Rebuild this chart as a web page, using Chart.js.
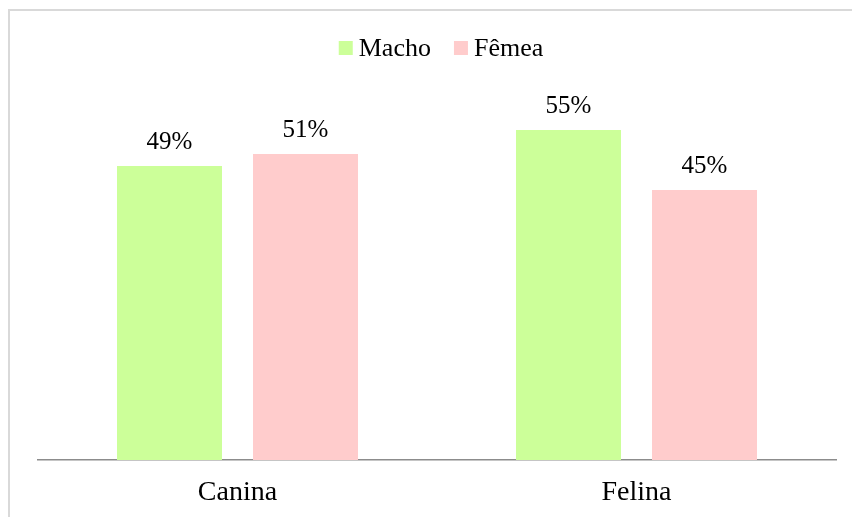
<!DOCTYPE html>
<html>
<head>
<meta charset="utf-8">
<script src="https://cdn.jsdelivr.net/npm/chart.js@4.4.1/dist/chart.umd.min.js"></script>
<style>
html,body{margin:0;padding:0;background:#fff;}
#wrap{width:852px;height:517px;position:relative;}
</style>
</head>
<body>
<div id="wrap"><canvas id="c" width="852" height="517"></canvas></div>
<script>
const categories = ["Canina", "Felina"];
const seriesNames = ["Macho", "Fêmea"];
const machoValues = [49, 55];
const femeaValues = [51, 45];
const seriesColors = ["#ccff99", "#ffcccc"];

const FONT = "'Liberation Serif', 'Times New Roman', serif";

const borderPlugin = {
  id: 'frame',
  beforeDraw(chart) {
    const ctx = chart.ctx;
    ctx.save();
    ctx.fillStyle = '#fff';
    ctx.fillRect(0, 0, chart.width, chart.height);
    ctx.strokeStyle = '#d9d9d9';
    ctx.lineWidth = 2;
    ctx.beginPath();
    ctx.moveTo(9, chart.height);
    ctx.lineTo(9, 10);
    ctx.lineTo(chart.width, 10);
    ctx.stroke();
    ctx.restore();
  }
};

const legendPlugin = {
  id: 'customLegend',
  afterDraw(chart) {
    const ctx = chart.ctx;
    ctx.save();
    ctx.font = "26px " + FONT;
    const box = 14, gapText = 6, gapItem = 23;
    const items = chart.data.datasets.map(d => ({label: d.label, color: d.backgroundColor, w: ctx.measureText(d.label).width}));
    let total = 0;
    items.forEach((it, i) => { total += box + gapText + it.w + (i < items.length - 1 ? gapItem : 0); });
    const center = (chart.chartArea.left + chart.chartArea.right) / 2 + 4;
    let x = center - total / 2;
    const baseline = 56;
    items.forEach(it => {
      ctx.fillStyle = it.color;
      ctx.fillRect(x, 41, box, box);
      x += box + gapText;
      ctx.fillStyle = '#000';
      ctx.textBaseline = 'alphabetic';
      ctx.textAlign = 'left';
      ctx.fillText(it.label, x, baseline);
      x += it.w + gapItem;
    });
    ctx.restore();
  }
};

const labelPlugin = {
  id: 'valueLabels',
  afterDatasetsDraw(chart) {
    const ctx = chart.ctx;
    ctx.save();
    ctx.font = "25px " + FONT;
    ctx.fillStyle = '#000';
    ctx.textAlign = 'center';
    ctx.textBaseline = 'alphabetic';
    chart.data.datasets.forEach((ds, di) => {
      const meta = chart.getDatasetMeta(di);
      meta.data.forEach((bar, i) => {
        ctx.fillText(ds.data[i] + '%', bar.x, bar.y - 17);
      });
    });
    ctx.restore();
  }
};

new Chart(document.getElementById('c'), {
  type: 'bar',
  data: {
    labels: categories,
    datasets: [
      {label: seriesNames[0], data: machoValues, backgroundColor: seriesColors[0]},
      {label: seriesNames[1], data: femeaValues, backgroundColor: seriesColors[1]}
    ]
  },
  options: {
    responsive: false,
    animation: false,
    devicePixelRatio: 1,
    layout: {padding: {left: 38, right: 16, top: 100, bottom: 0}},
    datasets: {bar: {categoryPercentage: 0.6817, barPercentage: 0.772}},
    plugins: {legend: {display: false}, tooltip: {enabled: false}},
    scales: {
      x: {
        grid: {display: false, drawTicks: false},
        border: {display: true, color: '#8c8c8c', width: 1.5},
        ticks: {color: '#000', font: {family: FONT, size: 28}, padding: 16},
        afterFit(scale) { scale.height = 57; }
      },
      y: {display: false, min: 0, max: 60}
    }
  },
  plugins: [borderPlugin, legendPlugin, labelPlugin]
});
</script>
</body>
</html>
